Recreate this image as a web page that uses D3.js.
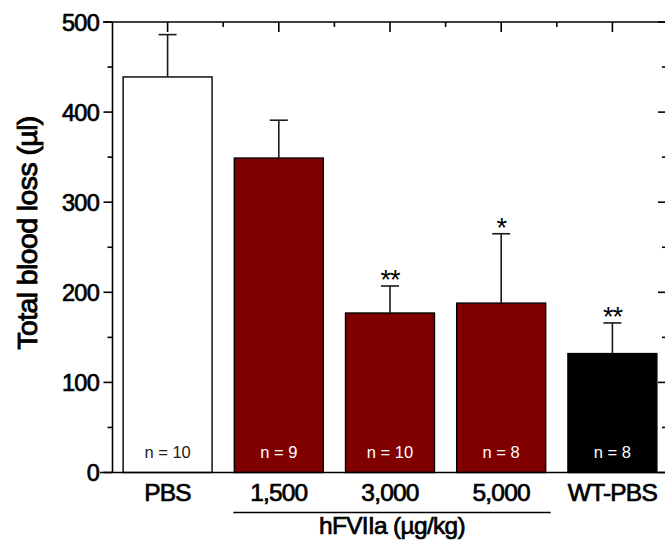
<!DOCTYPE html>
<html lang="en">
<head>
    <meta charset="UTF-8">
    <title>Total blood loss</title>
    <script src="https://d3js.org/d3.v7.min.js"></script>
    <style>
        body {
            margin: 0;
            background: #fff;
            font-family: 'Liberation Sans', Arial, Helvetica, sans-serif;
        }
        svg text { fill: #000; }
        .heavy { stroke: #000; stroke-width: 0.7px; }
        .frame line, .frame path { stroke: #000; stroke-width: 1.6px; }
    </style>
</head>
<body>
    <script>
        // values
        const categories = ["PBS", "1,500", "3,000", "5,000", "WT-PBS"];
        const means = [439, 349, 177, 188, 132];
        const sems = [47, 42, 30, 77, 34];
        const nLabels = ["n = 10", "n = 9", "n = 10", "n = 8", "n = 8"];
        const stars = ["", "", "**", "*", "**"];
        const yTicks = [0, 100, 200, 300, 400, 500];
        const yMinor = [50, 150, 250, 350, 450];
        const groupLabel = "hFVIIa (\u00b5g/kg)";
        const groupCats = ["1,500", "5,000"];

        const W = 665, H = 548;
        const plotLeft = 112.5, plotRight = 666, plotTop = 22, plotBottom = 472.5;

        const svg = d3.select("body").append("svg")
            .attr("width", W)
            .attr("height", H);

        const x = d3.scaleBand()
            .domain(categories)
            .range([112, 668])
            .paddingInner(0.2)
            .paddingOuter(0.1);

        const y = d3.scaleLinear()
            .domain([0, 500])
            .range([plotBottom, plotTop]);

        const fill = d3.scaleOrdinal()
            .domain(categories)
            .range(["#ffffff", "#800000", "#800000", "#800000", "#000000"]);

        // bars
        svg.selectAll(".bar")
            .data(categories)
            .enter().append("rect")
            .attr("class", "bar")
            .attr("x", d => x(d))
            .attr("width", x.bandwidth())
            .attr("y", (d, i) => y(means[i]))
            .attr("height", (d, i) => plotBottom - y(means[i]))
            .attr("fill", d => fill(d))
            .attr("stroke", "#000")
            .attr("stroke-width", 1.4);

        // error bars (upper only)
        const eb = svg.append("g")
            .attr("stroke", "#1a1a1a")
            .attr("stroke-width", 1.6);
        categories.forEach((c, i) => {
            const cx = x(c) + x.bandwidth() / 2;
            eb.append("line")
                .attr("x1", cx).attr("x2", cx)
                .attr("y1", y(means[i])).attr("y2", y(means[i] + sems[i]));
            eb.append("line")
                .attr("x1", cx - 9).attr("x2", cx + 9)
                .attr("y1", y(means[i] + sems[i])).attr("y2", y(means[i] + sems[i]));
        });

        // significance stars
        svg.selectAll(".star")
            .data(categories)
            .enter().append("text")
            .attr("class", "star")
            .attr("x", d => x(d) + x.bandwidth() / 2)
            .attr("y", (d, i) => y(means[i] + sems[i]) + 3)
            .attr("text-anchor", "middle")
            .style("font-size", "27px")
            .style("letter-spacing", "-1px")
            .text((d, i) => stars[i]);

        // n labels inside bars
        svg.selectAll(".nlab")
            .data(categories)
            .enter().append("text")
            .attr("class", "nlab")
            .attr("x", d => x(d) + x.bandwidth() / 2)
            .attr("y", 458)
            .attr("text-anchor", "middle")
            .style("font-size", "16.5px")
            .style("fill", (d, i) => i === 0 ? "#222" : "#fff")
            .text((d, i) => nLabels[i]);

        // frame
        const frame = svg.append("g").attr("class", "frame");
        frame.append("line")
            .attr("x1", plotLeft).attr("x2", plotLeft)
            .attr("y1", plotTop).attr("y2", plotBottom);
        frame.append("line")
            .attr("x1", 100).attr("x2", W + 5)
            .attr("y1", plotBottom).attr("y2", plotBottom);
        frame.append("line")
            .attr("x1", 103).attr("x2", W + 5)
            .attr("y1", plotTop).attr("y2", plotTop);
        frame.append("line")
            .attr("x1", plotRight).attr("x2", plotRight)
            .attr("y1", plotTop).attr("y2", plotBottom);

        frame.selectAll(".ymaj")
            .data(yTicks)
            .enter().append("line")
            .attr("x1", plotLeft - 9).attr("x2", plotLeft)
            .attr("y1", d => y(d)).attr("y2", d => y(d));
        frame.selectAll(".ymin")
            .data(yMinor)
            .enter().append("line")
            .attr("x1", plotLeft - 5).attr("x2", plotLeft)
            .attr("y1", d => y(d)).attr("y2", d => y(d));

        // right side ticks (inward)
        frame.selectAll(".rmaj")
            .data(yTicks)
            .enter().append("line")
            .attr("x1", plotRight - 8).attr("x2", plotRight)
            .attr("y1", d => y(d)).attr("y2", d => y(d));
        frame.selectAll(".rmin")
            .data(yMinor)
            .enter().append("line")
            .attr("x1", plotRight - 4).attr("x2", plotRight)
            .attr("y1", d => y(d)).attr("y2", d => y(d));

        // top ticks (inward) at category centres and midpoints
        frame.selectAll(".tmaj")
            .data(categories)
            .enter().append("line")
            .attr("x1", d => x(d) + x.bandwidth() / 2)
            .attr("x2", d => x(d) + x.bandwidth() / 2)
            .attr("y1", plotTop).attr("y2", plotTop + 10);
        frame.selectAll(".tmin")
            .data(categories.slice(1))
            .enter().append("line")
            .attr("x1", d => x(d) + x.bandwidth() / 2 - x.step() / 2)
            .attr("x2", d => x(d) + x.bandwidth() / 2 - x.step() / 2)
            .attr("y1", plotTop).attr("y2", plotTop + 5);

        // y tick labels
        svg.selectAll(".ylab")
            .data(yTicks)
            .enter().append("text")
            .attr("class", "heavy")
            .attr("x", 99)
            .attr("y", d => y(d) + 8.5)
            .attr("text-anchor", "end")
            .style("font-size", "23.5px")
            .style("letter-spacing", "-0.7px")
            .text(d => d);

        // category labels
        svg.selectAll(".xlab")
            .data(categories)
            .enter().append("text")
            .attr("class", "heavy")
            .attr("x", d => x(d) + x.bandwidth() / 2)
            .attr("y", 500.5)
            .attr("text-anchor", "middle")
            .style("font-size", "24.5px")
            .style("letter-spacing", "-0.8px")
            .text(d => d);

        // group bracket
        const gx1 = x(groupCats[0]) - 1;
        const gx2 = x(groupCats[1]) + x.bandwidth() + 5;
        svg.append("line")
            .attr("x1", gx1).attr("x2", gx2)
            .attr("y1", 512.5).attr("y2", 512.5)
            .attr("stroke", "#000")
            .attr("stroke-width", 1.6);
        svg.append("text")
            .attr("class", "heavy")
            .attr("x", (gx1 + gx2) / 2)
            .attr("y", 534)
            .attr("text-anchor", "middle")
            .style("font-size", "24.5px")
            .style("letter-spacing", "-0.7px")
            .text(groupLabel);

        // y axis title
        svg.append("text")
            .attr("class", "heavy")
            .attr("transform", "translate(37,233) rotate(-90)")
            .attr("text-anchor", "middle")
            .style("font-size", "28.5px")
            .style("letter-spacing", "-0.6px")
            .style("stroke-width", "0.9px")
            .text("Total blood loss (\u00b5l)");
    </script>
</body>
</html>
